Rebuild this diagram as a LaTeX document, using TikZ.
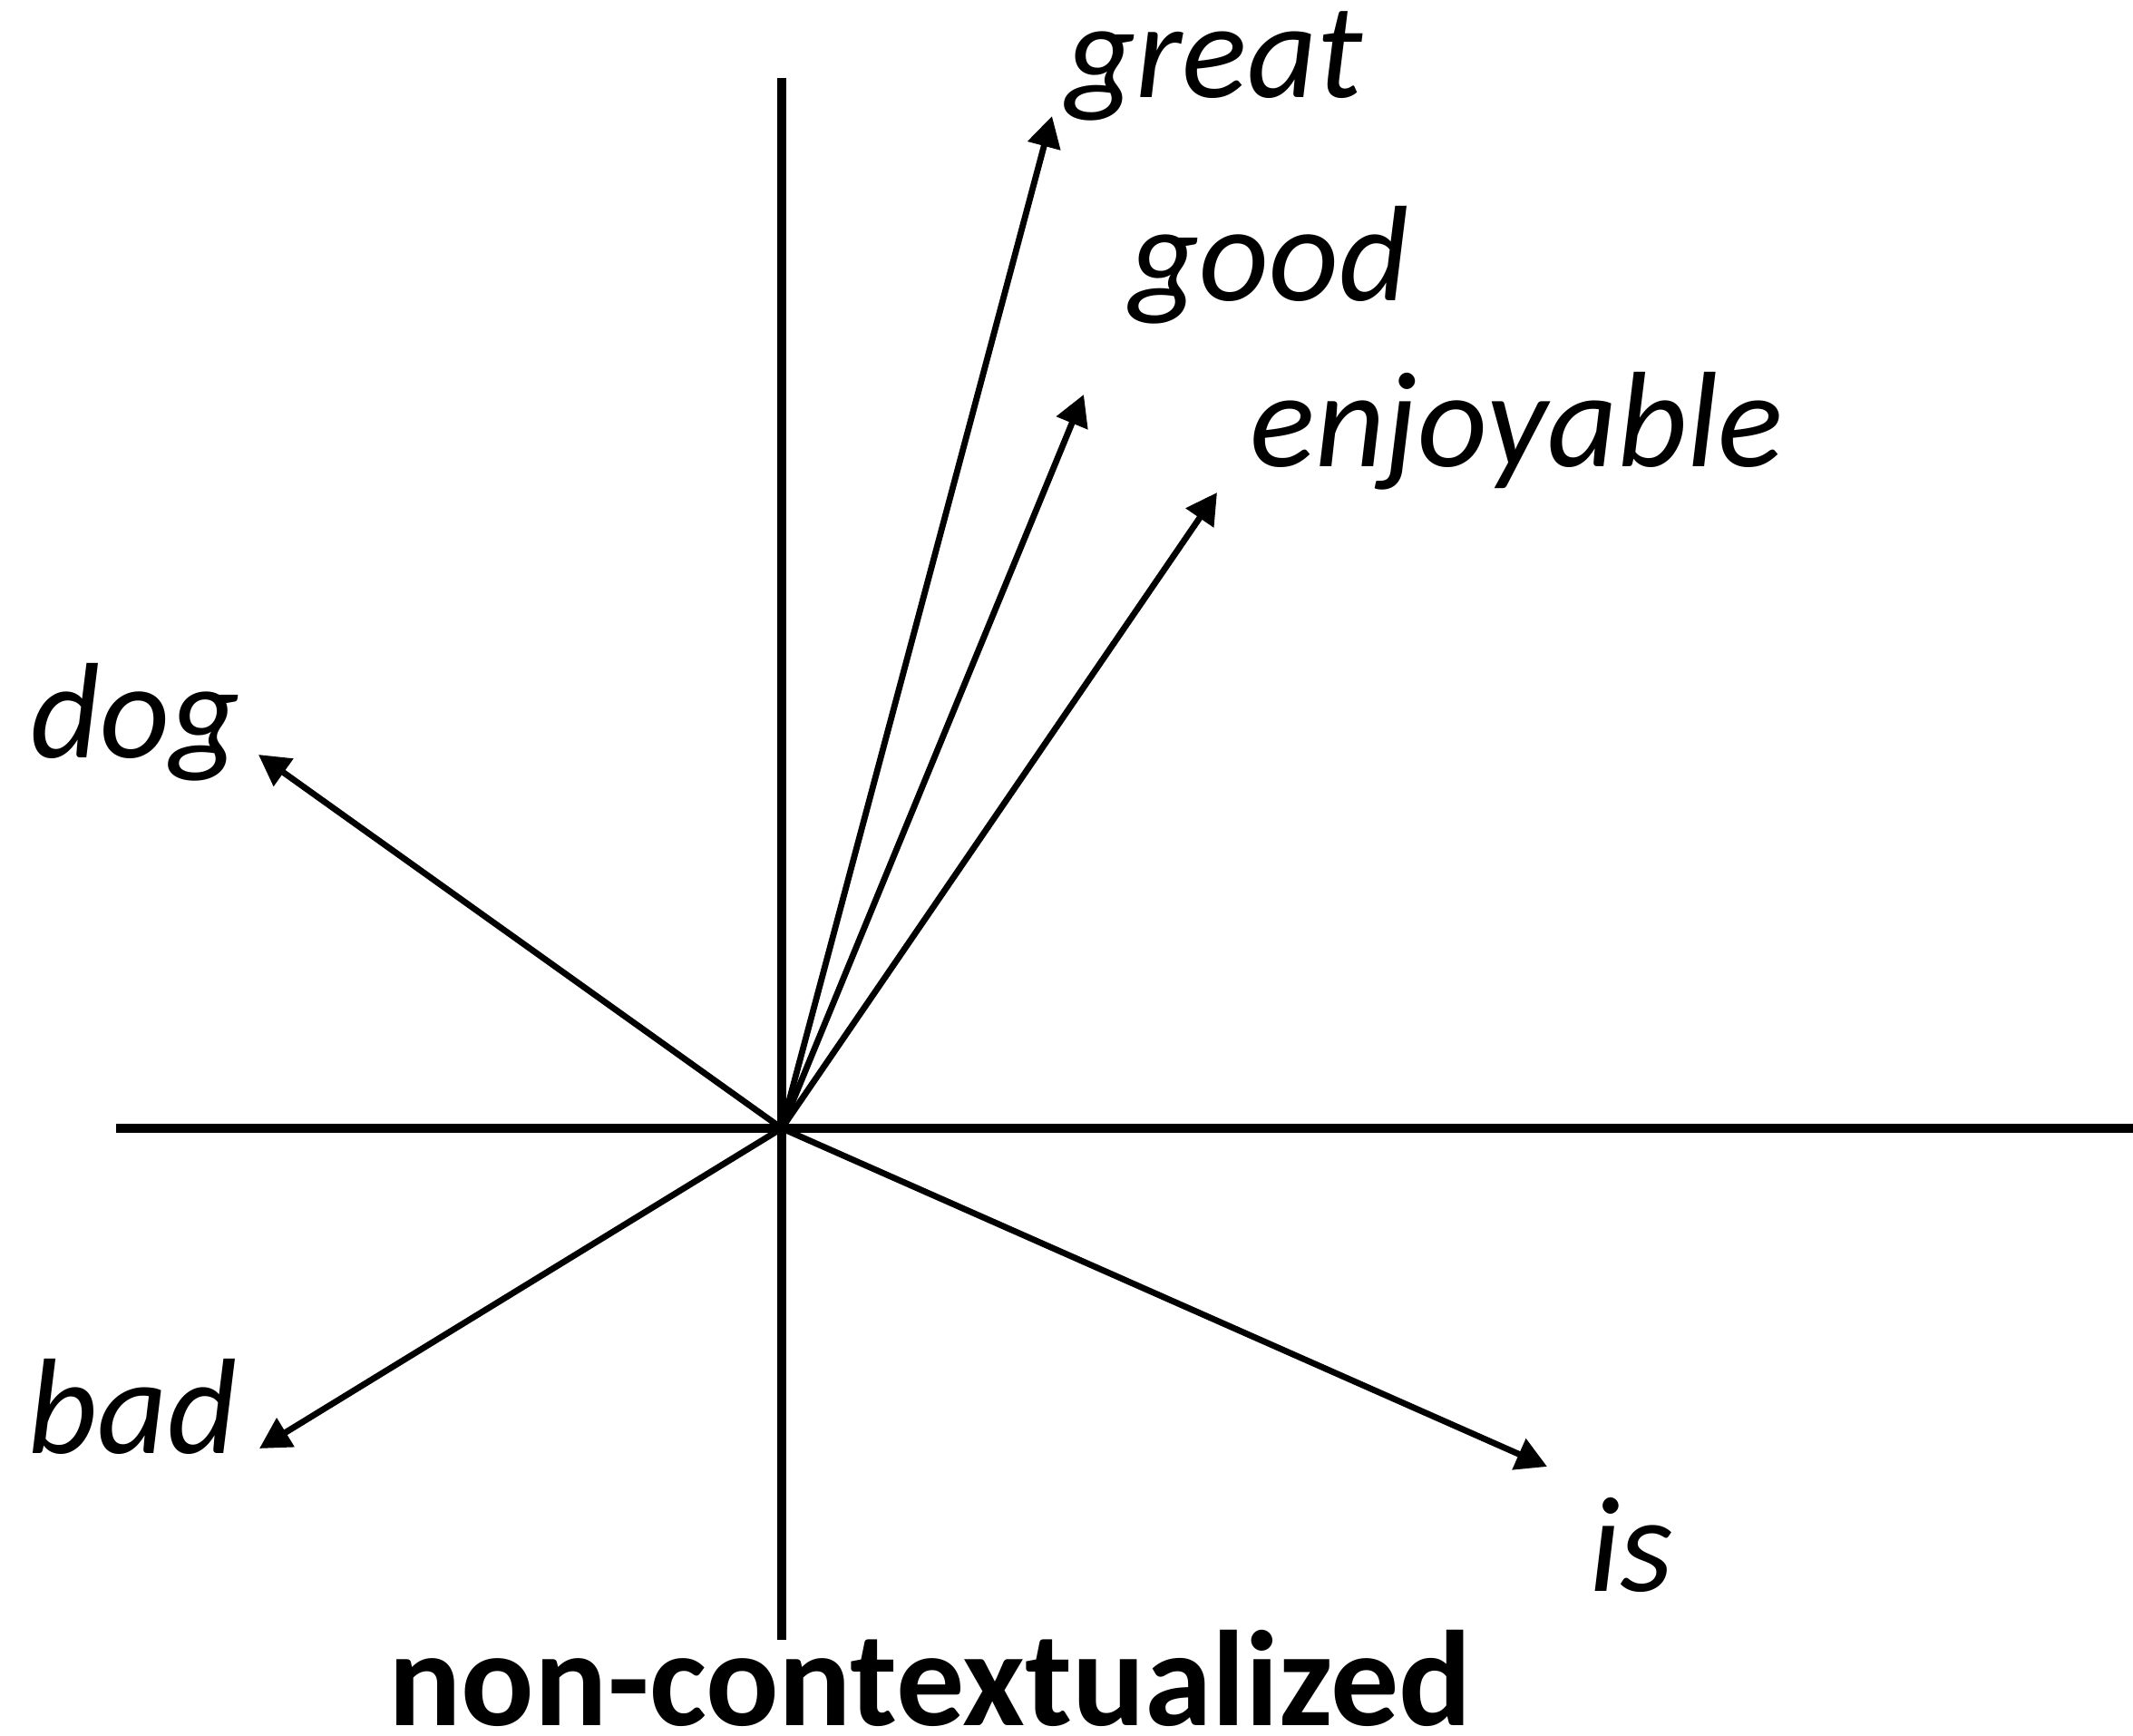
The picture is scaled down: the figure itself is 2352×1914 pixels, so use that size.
\documentclass[tikz,border=0pt]{standalone}
\usepackage{fontspec}
\setmainfont{Carlito}
\usetikzlibrary{arrows.meta}
\begin{document}
\begin{tikzpicture}[x=0.5pt,y=-0.5pt,
  axis/.style={line width=5pt},
  vec/.style={line width=3.4pt,-{Triangle[length=17pt,width=18pt]}},
  word/.style={font=\fontsize{75pt}{90pt}\selectfont\itshape,inner sep=0pt,anchor=base west},
  title/.style={font=\fontsize{75pt}{90pt}\selectfont\bfseries,inner sep=0pt,anchor=base west}]
\useasboundingbox (0,0) rectangle (2352,1914);
\coordinate (O) at (862,1244);
\coordinate (top) at (862,86);
\coordinate (bot) at (862,1808);
\coordinate (left) at (128,1244);
\coordinate (right) at (2352,1244);
\draw[axis] (top) -- (bot);
\draw[axis] (left) -- (right);
\coordinate (tgreat) at (1160,128);
\coordinate (tgood) at (1195,435);
\coordinate (tenj) at (1342,543);
\coordinate (tdog) at (285,832);
\coordinate (tbad) at (286,1597);
\coordinate (tis) at (1706,1617);
\draw[vec] (O) -- (tgreat);
\draw[vec] (O) -- (tgood);
\draw[vec] (O) -- (tenj);
\draw[vec] (O) -- (tdog);
\draw[vec] (O) -- (tbad);
\draw[vec] (O) -- (tis);
\node[word] (great) at (1175,108) {great};
\node[word] (good) at (1245,332) {good};
\node[word] (enjoyable) at (1378,515) {enjoyable};
\node[word] (dog) at (33,836) {dog};
\node[word] (bad) at (30,1602) {bad};
\node[word] (is) at (1752,1754) {is};
\node[title] (caption) at (428,1902) {non-contextualized};
\end{tikzpicture}
\end{document}
